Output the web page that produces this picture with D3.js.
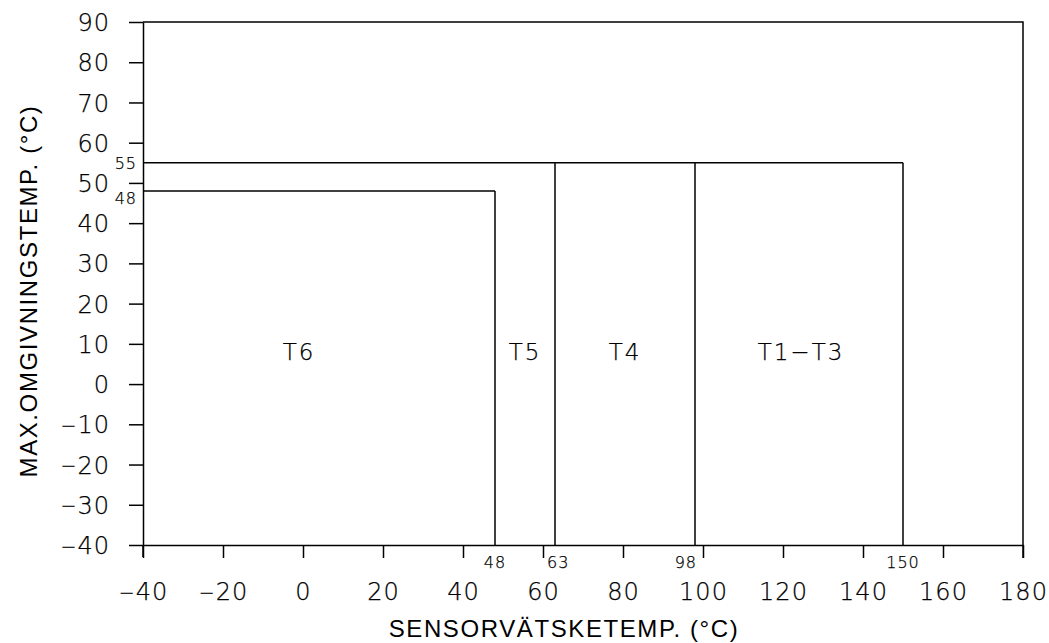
<!DOCTYPE html>
<html>
<head>
<meta charset="utf-8">
<script src="https://cdn.jsdelivr.net/npm/d3@7"></script>
<style>
  body { margin: 0; background: #fff; }
  .cad { font-family: "DejaVu Sans", sans-serif; font-weight: 200; fill: #000; stroke: #000; stroke-width: 0.25px; }
  .title { font-family: "Liberation Sans", Arial, sans-serif; font-size: 24px; letter-spacing: 1.6px; fill: #000; }
</style>
</head>
<body>
<div id="chart"></div>
<script>
// tick values on both axes
var xTicks = [-40, -20, 0, 20, 40, 60, 80, 100, 120, 140, 160, 180];
var yTicks = [-40, -30, -20, -10, 0, 10, 20, 30, 40, 50, 60, 70, 80, 90];

// temperature classes: sensor fluid limit and max ambient limit
var zoneNames   = ["T6", "T5", "T4", "T1-T3"];
var sensorLimit = [48, 63, 98, 150];
var ambientMax  = [48, 55, 55, 55];
var zoneLabelX  = [-1, 55.5, 80.5, 124.5];
var zoneLabelY  = 8;

var width = 1049, height = 643;
var margin = {top: 22, right: 26, bottom: 98, left: 143};

var svg = d3.select("#chart")
  .append("svg")
    .attr("width", width)
    .attr("height", height);

var x = d3.scaleLinear()
  .domain([-40, 180])
  .range([margin.left, width - margin.right]);

var y = d3.scaleLinear()
  .domain([-40, 90])
  .range([height - margin.bottom, margin.top]);

// x axis
var gx = svg.append("g")
  .attr("transform", "translate(0," + y(-40) + ")")
  .call(d3.axisBottom(x).tickValues(xTicks).tickSize(13).tickSizeOuter(0));

// y axis
var gy = svg.append("g")
  .attr("transform", "translate(" + x(-40) + ",0)")
  .call(d3.axisLeft(y).tickValues(yTicks).tickSize(14).tickSizeOuter(0));

// tick labels placed in px (no em offsets, so the tspans below line up)
gx.selectAll(".tick text").attr("y", 55).attr("dy", null);
gy.selectAll(".tick text").attr("x", -33).attr("y", 8.6).attr("dy", null);

[gx, gy].forEach(function(g) {
  g.selectAll("path, line").attr("stroke", "#000").attr("stroke-width", 1.5);
  g.selectAll("text")
    .attr("class", "cad")
    .attr("fill", null)
    .style("font-size", "24px")
    .style("letter-spacing", "1px")
    .each(function(d) {
      // CAD style minus: shorter bar, slightly raised
      var t = d3.select(this).text("");
      if (d < 0) {
        t.append("tspan").text("\u2212")
          .style("font-size", "19px")
          .attr("dy", -1.5);
        t.append("tspan").text(Math.abs(d)).attr("dy", 1.5);
      } else {
        t.append("tspan").text(d);
      }
    });
});

// extend y axis slightly below x axis
svg.append("line")
  .attr("x1", x(-40)).attr("x2", x(-40))
  .attr("y1", y(-40)).attr("y2", y(-40) + 12)
  .attr("stroke", "#000").attr("stroke-width", 1.5);

// outer frame: top and right
svg.append("path")
  .attr("d", "M" + x(-40) + "," + y(90) + "H" + x(180) + "V" + (y(-40) + 13))
  .attr("fill", "none").attr("stroke", "#000").attr("stroke-width", 1.5);

// zone boundaries
var line = svg.append("g").attr("fill", "none").attr("stroke", "#000").attr("stroke-width", 1.5);
sensorLimit.forEach(function(s, i) {
  line.append("line")
    .attr("x1", x(s)).attr("x2", x(s))
    .attr("y1", y(-40)).attr("y2", y(ambientMax[i]));
  var x0 = i <= 1 ? -40 : sensorLimit[i - 1];
  line.append("line")
    .attr("x1", x(x0)).attr("x2", x(s))
    .attr("y1", y(ambientMax[i])).attr("y2", y(ambientMax[i]));
});

// zone labels
svg.append("g").selectAll("text")
  .data(zoneNames)
  .join("text")
    .attr("class", "cad")
    .attr("x", function(d, i) { return x(zoneLabelX[i]); })
    .attr("y", y(zoneLabelY))
    .attr("text-anchor", "middle")
    .attr("dy", "0.36em")
    .style("font-size", "23px")
    .style("letter-spacing", "2px")
    .text(function(d) { return d.replace("-", "\u2212"); });

// small limit labels on x axis
var xAnchor = ["middle", "start", "end", "middle"];
var xShift  = [0, -8, 2, 0];
svg.append("g").selectAll("text")
  .data(sensorLimit)
  .join("text")
    .attr("class", "cad")
    .attr("x", function(d, i) { return x(d) + xShift[i]; })
    .attr("y", y(-40) + 23)
    .attr("text-anchor", function(d, i) { return xAnchor[i]; })
    .style("font-size", "16px")
    .style("letter-spacing", "1px")
    .text(function(d) { return d; });

// small limit labels on y axis
var yLimits = [55, 48];
var yShift  = [6, 13];
svg.append("g").selectAll("text")
  .data(yLimits)
  .join("text")
    .attr("class", "cad")
    .attr("x", x(-40) - 6)
    .attr("y", function(d, i) { return y(d) + yShift[i]; })
    .attr("text-anchor", "end")
    .style("font-size", "16px")
    .style("letter-spacing", "1px")
    .text(function(d) { return d; });

// axis titles
svg.append("text")
  .attr("class", "title")
  .attr("x", 564).attr("y", 637)
  .attr("text-anchor", "middle")
  .text("SENSORVÄTSKETEMP. (°C)");

svg.append("text")
  .attr("class", "title")
  .attr("transform", "translate(37,291) rotate(-90)")
  .attr("text-anchor", "middle")
  .text("MAX.OMGIVNINGSTEMP. (°C)");
</script>
</body>
</html>
